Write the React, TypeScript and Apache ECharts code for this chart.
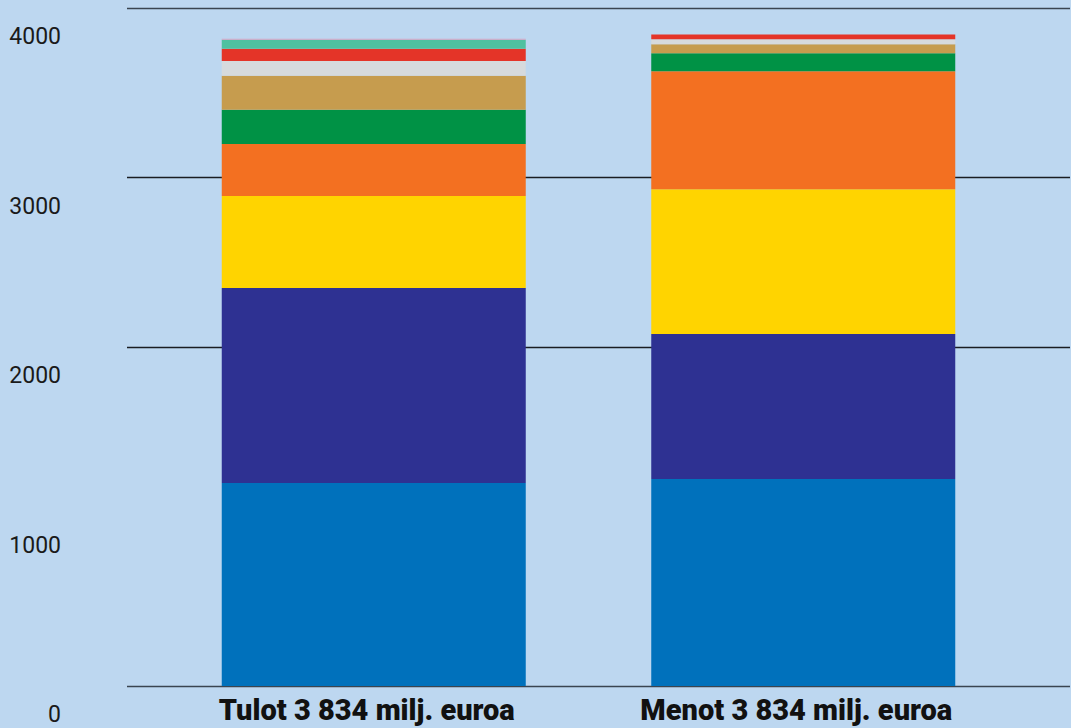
import React, { useEffect, useRef } from "react";
import * as echarts from "echarts";

const categories = ["Tulot 3 834 milj. euroa", "Menot 3 834 milj. euroa"];
const yTicks = [0, 1000, 2000, 3000, 4000];

// stacked segments, bottom to top: [Tulot, Menot]
const segBlue = [1198, 1221];
const segNavy = [1150, 855];
const segYellow = [543, 855];
const segOrange = [307, 696];
const segGreen = [202, 106];
const segTan = [201, 53];
const segGrey = [87, 29];
const segRed = [71, 29];
const segTeal = [53, 0];
const segPink = [6, 0];

const segments = [
  { name: "s1", data: segBlue, color: "#0071BC" },
  { name: "s2", data: segNavy, color: "#2E3192" },
  { name: "s3", data: segYellow, color: "#FFD400" },
  { name: "s4", data: segOrange, color: "#F37021" },
  { name: "s5", data: segGreen, color: "#009245" },
  { name: "s6", data: segTan, color: "#C69C4E" },
  { name: "s7", data: segGrey, color: "#D6DADD" },
  { name: "s8", data: segRed, color: "#E43428" },
  { name: "s9", data: segTeal, color: "#4FC1A0" },
  { name: "s10", data: segPink, color: "#D9A3C4" },
];

export default function App() {
  const ref = useRef<HTMLDivElement>(null);

  useEffect(() => {
    document.body.style.margin = "0";
    if (!ref.current) return;
    const chart = echarts.init(ref.current, undefined, { renderer: "svg" });
    const yMin = yTicks[0];
    const yMax = yTicks[yTicks.length - 1];
    const interval = yTicks[1] - yTicks[0];
    chart.setOption({
      animation: false,
      backgroundColor: "#BDD7F0",
      grid: [
        { left: 127, right: 1, top: 8, bottom: 42 },
        { left: 159, width: 859, top: 8, bottom: 42 },
      ],
      xAxis: [
        {
          gridIndex: 0,
          type: "value",
          min: 0,
          max: 1,
          show: false,
        },
        {
          gridIndex: 1,
          type: "category",
          data: categories,
          axisLine: { show: false },
          axisTick: { show: false },
          axisLabel: {
            margin: 9,
            fontFamily: "Roboto, 'Liberation Sans', sans-serif",
            fontWeight: 900,
            fontSize: 29,
            color: "#111",
            padding: [0, 14, 0, 0],
          },
        },
      ],
      yAxis: [
        {
          gridIndex: 0,
          type: "value",
          min: yMin,
          max: yMax,
          interval,
          axisLine: { show: false },
          axisTick: { show: false },
          splitLine: {
            show: true,
            lineStyle: {
              color: ["#3a4450", "rgba(0,0,0,0)", "#1a1d22", "#1a1d22", "#3a4450"],
              width: 1.3,
            },
          },
          axisLabel: {
            margin: 66,
            fontFamily: "Roboto, sans-serif",
            fontSize: 23,
            color: "#1a1a1a",
            verticalAlign: "top",
            lineHeight: 23,
            padding: [17, 0, 0, 0],
            formatter: (v: number) => String(v),
          },
        },
        {
          gridIndex: 1,
          type: "value",
          min: yMin,
          max: yMax,
          interval,
          show: false,
          splitLine: { show: false },
        },
      ],
      series: segments.map((s) => ({
        name: s.name,
        type: "bar",
        stack: "total",
        xAxisIndex: 1,
        yAxisIndex: 1,
        barWidth: 304,
        data: s.data,
        itemStyle: { color: s.color },
        emphasis: { disabled: true },
      })),
    });
    return () => chart.dispose();
  }, []);

  return <div ref={ref} style={{ width: 1071, height: 728 }} />;
}
